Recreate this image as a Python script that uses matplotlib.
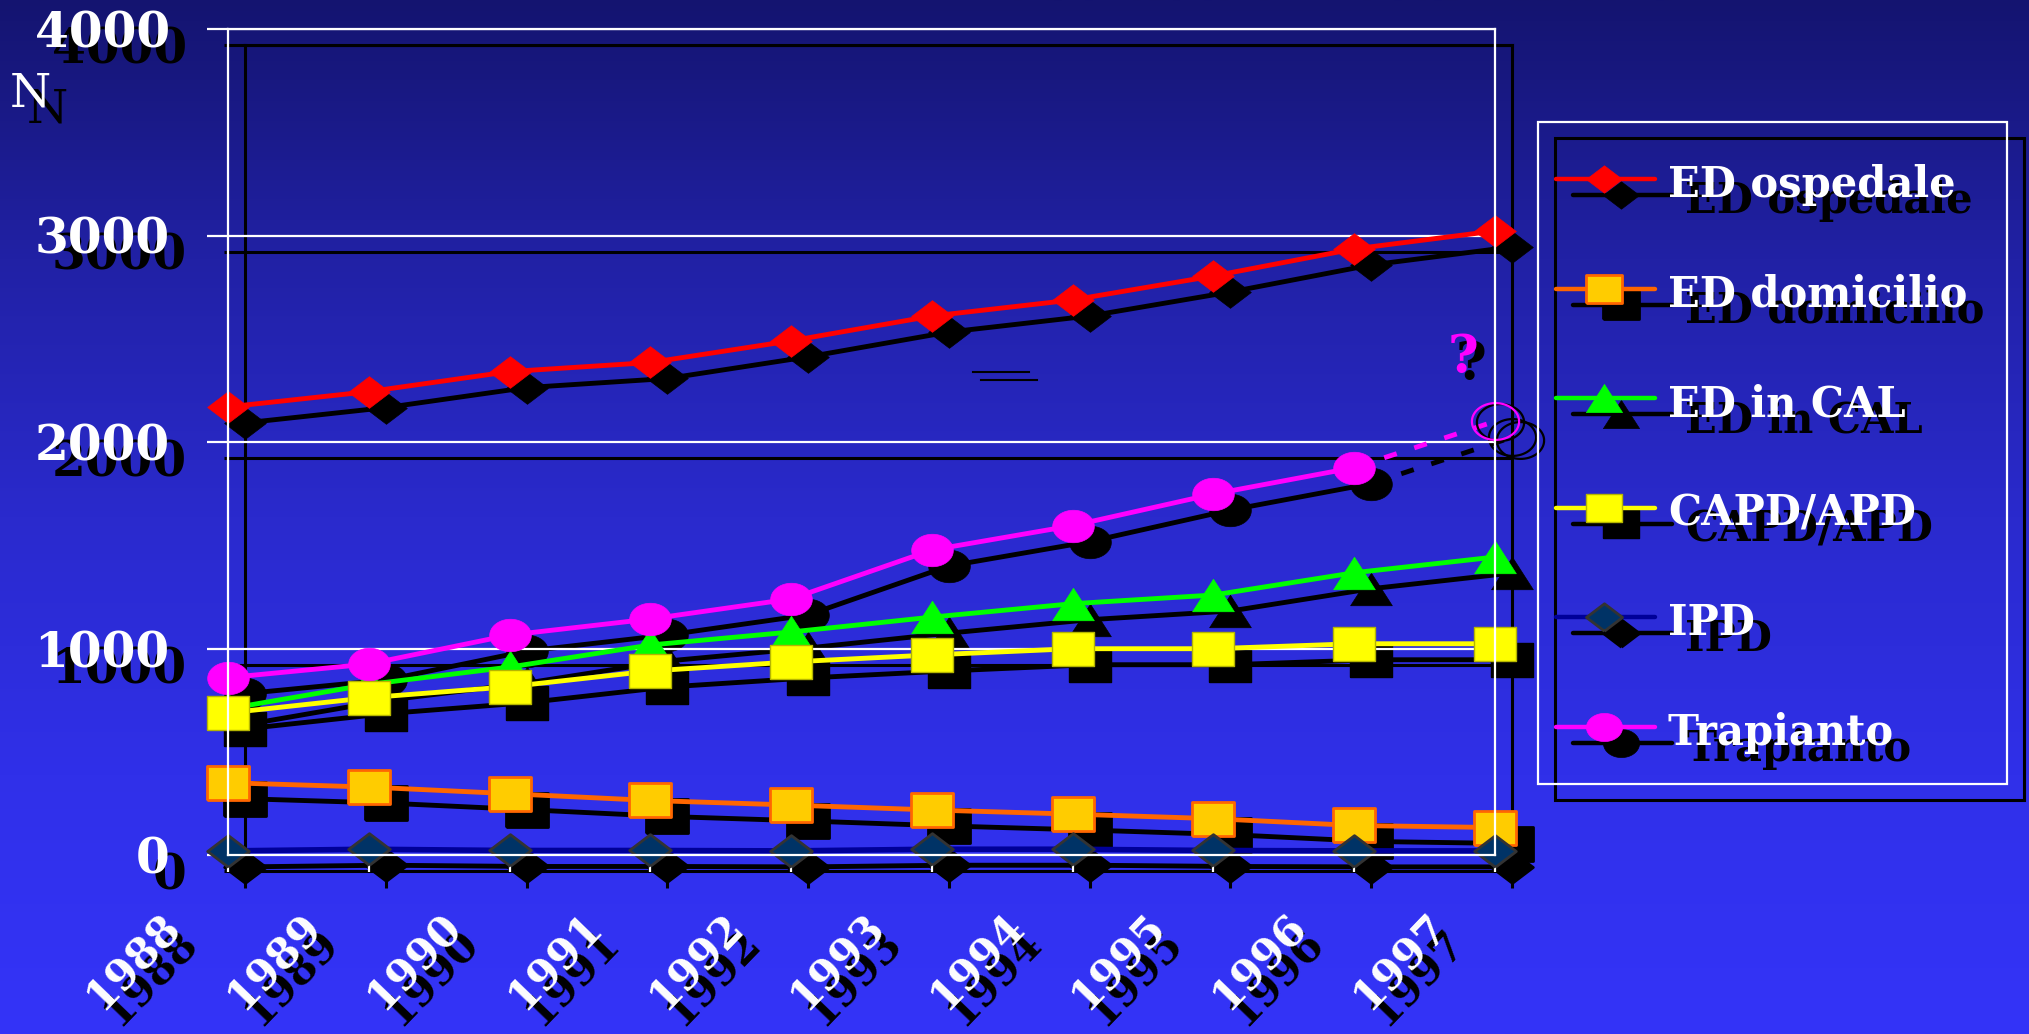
"""Dialysis / transplant patients 1988-1997, slide-style chart with drop shadows."""

import numpy as np
import matplotlib
matplotlib.use("Agg")
import matplotlib.pyplot as plt
from matplotlib.patches import Rectangle
from matplotlib.transforms import offset_copy

W, H = 2029, 1034

YEARS = [1988, 1989, 1990, 1991, 1992, 1993, 1994, 1995, 1996, 1997]
ED_OSPEDALE = [2170, 2244, 2341, 2385, 2490, 2610, 2688, 2804, 2935, 3022]
ED_DOMICILIO = [350, 329, 297, 264, 242, 218, 198, 176, 143, 133]
ED_CAL = [708, 826, 910, 1017, 1080, 1152, 1217, 1259, 1367, 1443]
CAPD_APD = [688, 762, 815, 891, 935, 969, 999, 999, 1023, 1023]
IPD = [20, 28, 22, 22, 20, 28, 28, 22, 20, 20]
TRAPIANTO = [859, 925, 1065, 1143, 1240, 1477, 1595, 1748, 1876]
PROJ_YEARS = [1996, 1997]
PROJ_TRAPIANTO = [1876, 2100]
Y_TICKS = [0, 1000, 2000, 3000, 4000]
LABELS = ["ED ospedale", "ED domicilio", "ED in CAL", "CAPD/APD", "IPD", "Trapianto"]

SERIF = "DejaVu Serif"

# marker shapes, stretched wider than tall like the original slide
RECT = [(-1, -0.8), (1, -0.8), (1, 0.8), (-1, 0.8), (-1, -0.8)]
DIAM = [(0, -0.76), (1, 0), (0, 0.76), (-1, 0), (0, -0.76)]
TRI = [(-1, -0.78), (1, -0.78), (0, 0.78), (-1, -0.78)]
_t = np.linspace(0, 2 * np.pi, 64)
ELL = list(zip(np.cos(_t), 0.78 * np.sin(_t)))

# line colour, marker, face, edge, edge width
STYLES = [
    ("#FF0000", DIAM, "#FF0000", "#FF0000", 0.5),
    ("#FF6600", RECT, "#FFCC00", "#FF6600", 2.0),
    ("#00FF00", TRI, "#00FF00", "#00FF00", 0.5),
    ("#FFFF00", RECT, "#FFFF00", "#B5B500", 1.0),
    ("#000099", DIAM, "#003366", "#333333", 2.0),
    ("#FF00FF", ELL, "#FF00FF", "#FF00FF", 0.5),
]
SERIES = [ED_OSPEDALE, ED_DOMICILIO, ED_CAL, CAPD_APD, IPD, TRAPIANTO]

SHX, SHY = 17, 16  # shadow offset in pixels

fig = plt.figure(figsize=(W / 100, H / 100), dpi=100)

# background gradient
bg = fig.add_axes([0, 0, 1, 1], zorder=0)
stops_y = [0.0, 0.25, 0.5, 0.75, 1.0]
stops_c = np.array([[20, 20, 112], [33, 33, 165], [42, 42, 205],
                    [48, 48, 233], [52, 52, 248]]) / 255
yy = np.linspace(0, 1, 400)
grad = np.stack([np.interp(yy, stops_y, stops_c[:, k]) for k in range(3)], axis=1)
bg.imshow(grad[:, None, :], aspect="auto", extent=[0, 1, 1, 0])
bg.set_axis_off()

left, right, top, bottom = 228, 1495, 29, 855
pos = [left / W, 1 - bottom / H, (right - left) / W, (bottom - top) / H]
ax_sh = fig.add_axes([pos[0] + SHX / W, pos[1] - SHY / H, pos[2], pos[3]], zorder=1)
ax = fig.add_axes(pos, zorder=2)


def style_axes(a, col, lw):
    a.set_xlim(YEARS[0], YEARS[-1])
    a.set_ylim(0, 4000)
    a.set_facecolor("none")
    for s in a.spines.values():
        s.set_color(col)
        s.set_linewidth(lw)
    a.set_yticks(Y_TICKS)
    a.set_yticklabels([str(v) for v in Y_TICKS], fontsize=35,
                      fontweight="bold", family=SERIF, color=col)
    a.set_xticks(YEARS)
    a.set_xticklabels([])
    a.tick_params(axis="y", length=15, width=lw, color=col, pad=27)
    a.tick_params(axis="x", length=12, width=lw, color=col)
    a.grid(axis="y", color=col, lw=lw)
    a.set_axisbelow(True)
    a.text(-0.156, 0.922, "N", transform=a.transAxes, ha="center",
           va="center", fontsize=34, family=SERIF, color=col)
    for yr in YEARS:
        tr = offset_copy(a.get_xaxis_transform(), fig, -95, -106, units="dots")
        a.text(yr, 0, str(yr), transform=tr, rotation=46, ha="center",
               va="center", fontsize=30, fontweight="bold", family=SERIF,
               color=col)


style_axes(ax_sh, "black", 2.2)
style_axes(ax, "white", 1.6)

for vals, (lc, mk, fc, ec, mew) in zip(SERIES, STYLES):
    xs = YEARS[:len(vals)]
    lw = 4.0 if lc == "#000099" else 3.5
    ax_sh.plot(xs, vals, color="black", lw=3.5, marker=mk, ms=30,
               mfc="black", mec="black", mew=mew, clip_on=False)
    ax.plot(xs, vals, color=lc, lw=lw, marker=mk, ms=30, mfc=fc, mec=ec,
            mew=mew, clip_on=False)

# projected transplant value for 1997
ax_sh.plot(PROJ_YEARS, PROJ_TRAPIANTO, color="black", lw=3.5,
           ls=(0, (2.7, 3.8)), clip_on=False)
ax_sh.plot(PROJ_YEARS[-1:], PROJ_TRAPIANTO[-1:], ls="none", marker=ELL, ms=34,
           mfc="none", mec="black", mew=1.6, clip_on=False)
ax_sh.plot(PROJ_YEARS[-1:], PROJ_TRAPIANTO[-1:], ls="none", marker=ELL, ms=34,
           mfc="none", mec="black", mew=1.6, clip_on=False,
           transform=offset_copy(ax_sh.transData, fig, 8, -3, units="dots"))
ax.plot(PROJ_YEARS, PROJ_TRAPIANTO, color="#FF00FF", lw=3.5,
        ls=(0, (2.7, 3.8)), clip_on=False)
ax.plot(PROJ_YEARS[-1:], PROJ_TRAPIANTO[-1:], ls="none", marker=ELL, ms=34,
        mfc="none", mec="black", mew=1.6, clip_on=False,
        transform=offset_copy(ax.transData, fig, 5, -1, units="dots"))
ax.plot(PROJ_YEARS[-1:], PROJ_TRAPIANTO[-1:], ls="none", marker=ELL, ms=34,
        mfc="none", mec="#FF00FF", mew=1.6, clip_on=False)
ax.text(1996.77, 2411, "?", ha="center", va="center", fontsize=38,
        fontweight="bold", family=SERIF, color="black",
        transform=offset_copy(ax.transData, fig, 8, -7, units="dots"))
ax.text(1996.77, 2411, "?", ha="center", va="center", fontsize=38,
        fontweight="bold", family=SERIF, color="#FF00FF")

# overlay in pixel coordinates for the legend
ov = fig.add_axes([0, 0, 1, 1], zorder=3)
ov.set_xlim(0, W)
ov.set_ylim(H, 0)
ov.set_axis_off()
ov.patch.set_alpha(0)

# stray double dash left on the slide
ov.plot([973, 1029], [372, 372], color="black", lw=1.5)
ov.plot([981, 1037], [380, 380], color="black", lw=1.5)


def draw_legend(a, dx, dy, shadow):
    box = "black" if shadow else "white"
    a.add_patch(Rectangle((1538 + dx, 122 + dy), 469, 662, fill=False,
                          ec=box, lw=2.2 if shadow else 1.6))
    for i, (lab, (lc, mk, fc, ec, mew)) in enumerate(zip(LABELS, STYLES)):
        y = 179 + i * 109.6 + dy
        if shadow:
            lc = fc = ec = "black"
        a.plot([1556 + dx, 1655 + dx], [y, y], color=lc, lw=3.2,
               solid_capstyle="round")
        a.plot([1604 + dx], [y], marker=mk, ms=26, mfc=fc, mec=ec, mew=mew)
        a.text(1668 + dx, y + 18, lab, ha="left", va="baseline", fontsize=30,
               fontweight="bold", family=SERIF, color=box)


draw_legend(ov, SHX, SHY, True)
draw_legend(ov, 0, 0, False)

fig.savefig("out.png", dpi=100)
